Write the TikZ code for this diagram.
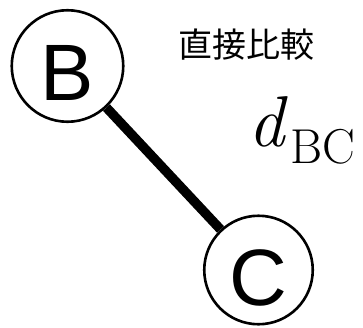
\documentclass[tikz,border=0pt]{standalone}
\usepackage{fontspec}
\newfontfamily\jpfont{Noto Sans CJK JP}
\newfontfamily\letterfont{Liberation Sans}
\usepackage{tikz}
\usetikzlibrary{calc,positioning}
\tikzset{vtx/.style={draw,circle,line width=2.6pt,inner sep=0pt,text height=70pt,text depth=0pt,font=\letterfont\fontsize{80}{80}\selectfont}}
\tikzstyle{edge}      = [line width=9.5pt]
% d with a lowered subscript, set by hand
\newcommand{\distlabel}[2]{{\fontsize{72}{72}\selectfont\itshape #1}\kern6pt\raisebox{-17pt}{\fontsize{49}{49}\selectfont #2}}

\begin{document}
\begin{tikzpicture}[x=1pt,y=1pt]
		\useasboundingbox (0,0) rectangle (363,327);
		\node[vtx,minimum size=111.5pt] (b) at (67.5,261) {B};
		\node[vtx,minimum size=108.5pt] (c) at (258.5,57) {C};
		\draw[edge] (b) -- (c);
		\node[font=\jpfont\fontsize{34}{34}\selectfont] (cmp) at (246,282) {直接比較};
		\node[anchor=base west,inner sep=0pt] (dbc) at (248,181) {\distlabel{d}{BC}};
	\end{tikzpicture}
\end{document}
